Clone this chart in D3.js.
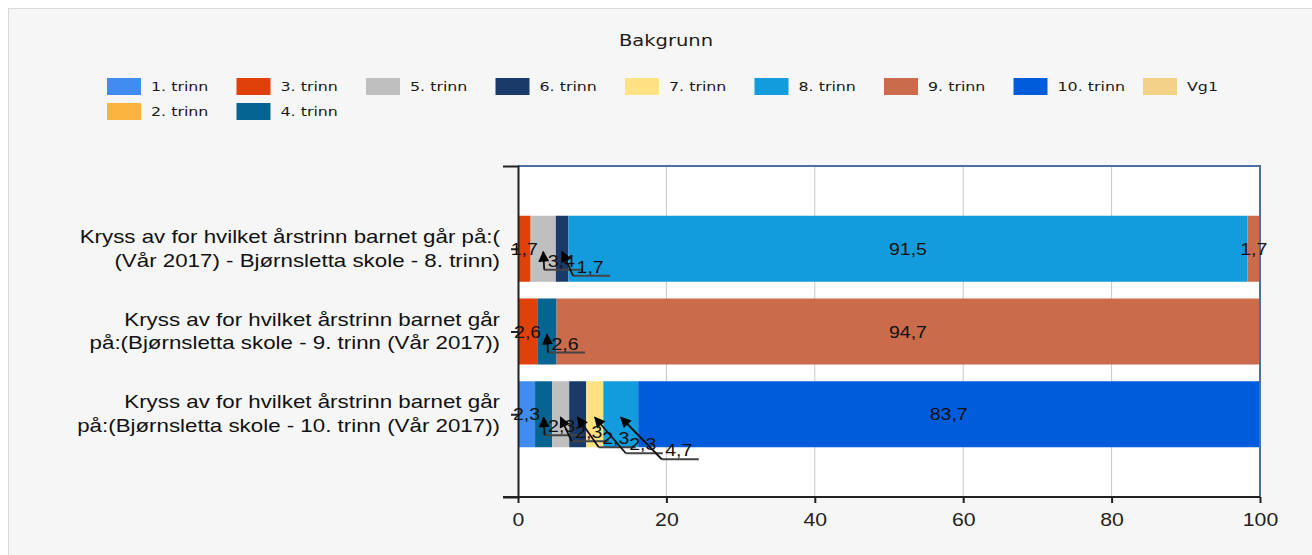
<!DOCTYPE html>
<html>
<head>
<meta charset="utf-8">
<script src="https://cdn.jsdelivr.net/npm/d3@7"></script>
<style>
  body { margin: 0; background: #fff; }
  svg { display: block; }
</style>
</head>
<body>
<svg></svg>
<script>
const W = 1312, H = 555;

// data
const title = "Bakgrunn";
const categories = [
    ["Kryss av for hvilket årstrinn barnet går på:(", "(Vår 2017) - Bjørnsletta skole - 8. trinn)"],
    ["Kryss av for hvilket årstrinn barnet går", "på:(Bjørnsletta skole - 9. trinn (Vår 2017))"],
    ["Kryss av for hvilket årstrinn barnet går", "på:(Bjørnsletta skole - 10. trinn (Vår 2017))"]
];
const seriesNames = ["1. trinn", "2. trinn", "3. trinn", "4. trinn", "5. trinn", "6. trinn",
                     "7. trinn", "8. trinn", "9. trinn", "10. trinn", "Vg1"];
const seriesColors = ["#418CF0", "#FCB441", "#E0400A", "#056492", "#BFBFBF", "#1A3B69",
                      "#FFE382", "#129CDD", "#CA6B4B", "#005CDB", "#F3D288"];
// percent per series (same order as seriesNames), one array per category
const values8trinn  = [0, 0, 1.7, 0, 3.4, 1.7, 0, 91.5, 1.7, 0, 0];
const values9trinn  = [0, 0, 2.6, 2.6, 0, 0, 0, 0, 94.7, 0, 0];
const values10trinn = [2.3, 0, 0, 2.3, 2.3, 2.3, 2.3, 4.7, 0, 83.7, 0];
const xTicks = [0, 20, 40, 60, 80, 100];
// legend columns (series index, top to bottom)
const legendColumns = [[0, 1], [2, 3], [4], [5], [6], [7], [8], [9], [10]];

const allValues = [values8trinn, values9trinn, values10trinn];

const svg = d3.select('svg').attr('width', W).attr('height', H);

// the source picture is a bit wider than normal, so text gets stretched sideways
const SX = 1.22;
function stretchedText(parent, px, py) {
    return parent.append('text')
        .attr('transform', `translate(${px},${py}) scale(${SX},1)`);
}

// background panel
svg.append('rect')
    .attr('x', 8.5).attr('y', 8.5)
    .attr('width', W).attr('height', H)
    .attr('fill', '#f6f6f6')
    .attr('stroke', '#d9d9d9');

// title
stretchedText(svg, 666, 46)
    .attr('text-anchor', 'middle')
    .attr('font-family', 'DejaVu Sans')
    .attr('font-size', 16)
    .attr('fill', '#1a1a1a')
    .text(title);

// legend
const legend = svg.append('g');
legendColumns.forEach((col, c) => {
    col.forEach((s, r) => {
        const lx = 107 + c * 129.5, ly = 78 + r * 25;
        legend.append('rect')
            .attr('x', lx).attr('y', ly)
            .attr('width', 34).attr('height', 17)
            .attr('fill', seriesColors[s]);
        stretchedText(legend, lx + 44, ly + 13)
            .attr('font-family', 'DejaVu Sans')
            .attr('font-size', 13)
            .attr('fill', '#1a1a1a')
            .text(seriesNames[s]);
    });
});

// scales
const plot = {l: 518, r: 1260, t: 166, b: 497};
const x = d3.scaleLinear().domain([0, 100]).range([plot.l, plot.r]);
const y = d3.scaleLinear().domain([0, 4]).range([plot.t, plot.b]);
const barH = 66;

// plot area
svg.append('rect')
    .attr('x', plot.l).attr('y', plot.t)
    .attr('width', plot.r - plot.l).attr('height', plot.b - plot.t)
    .attr('fill', '#fff');

// grid
svg.append('g').selectAll('line')
    .data(xTicks.slice(1, -1))
    .join('line')
    .attr('x1', d => x(d)).attr('x2', d => x(d))
    .attr('y1', plot.t).attr('y2', plot.b)
    .attr('stroke', '#c8c8c8');

// stacked bars
const stacked = allValues.map((vals, ci) => {
    let acc = 0;
    const segs = [];
    vals.forEach((v, si) => {
        if (v > 0) {
            segs.push({ci: ci, si: si, v: v, x0: acc, x1: acc + v});
            acc += v;
        }
    });
    return segs;
});

const barsG = svg.append('g');
stacked.forEach((segs, ci) => {
    barsG.selectAll(null)
        .data(segs)
        .join('rect')
        .attr('x', d => x(d.x0))
        .attr('y', y(ci + 1) - barH / 2)
        .attr('width', d => x(d.x1) - x(d.x0))
        .attr('height', barH)
        .attr('fill', d => seriesColors[d.si]);
});

// plot border (top + right)
svg.append('path')
    .attr('d', `M${plot.l},${plot.t}H${plot.r}V${plot.b}`)
    .attr('fill', 'none')
    .attr('stroke', '#4f6f9f')
    .attr('stroke-width', 2);

// axes
const xAxis = svg.append('g')
    .attr('transform', `translate(0, ${plot.b})`)
    .call(d3.axisBottom(x).tickValues(xTicks).tickSize(6).tickSizeOuter(0).tickPadding(10));
xAxis.select('.domain').attr('stroke', '#222').attr('stroke-width', 2).attr('d', `M${plot.l - 15},0H${plot.r}`);
xAxis.selectAll('.tick line').attr('stroke', '#222').attr('stroke-width', 2);
xAxis.selectAll('text')
    .attr('font-family', 'Liberation Sans, Arial')
    .attr('font-size', 18)
    .attr('fill', '#222')
    .attr('transform', 'scale(1.18,1)');

const yAxis = svg.append('g')
    .attr('transform', `translate(${plot.l}, 0)`)
    .call(d3.axisLeft(y).tickValues([1, 2, 3]).tickSize(7).tickSizeOuter(15).tickFormat(''));
yAxis.select('.domain').attr('stroke', '#222').attr('stroke-width', 2);
yAxis.selectAll('.tick line').attr('stroke', '#222').attr('stroke-width', 2);

// category labels
const catG = svg.append('g')
    .attr('font-family', 'Liberation Sans, Arial')
    .attr('font-size', 18)
    .attr('fill', '#111')
    .attr('text-anchor', 'end');
categories.forEach((lines, ci) => {
    const t = catG.append('text')
        .attr('transform', `translate(500,${y(ci + 1) - 6}) scale(1.24,1)`);
    lines.forEach((ln, i) => {
        t.append('tspan').attr('x', 0).attr('dy', i === 0 ? 0 : 24).text(ln);
    });
});

// data labels
svg.append('defs').append('marker')
    .attr('id', 'arrow')
    .attr('viewBox', '0 0 10 10')
    .attr('refX', 9).attr('refY', 5)
    .attr('markerWidth', 12).attr('markerHeight', 11)
    .attr('markerUnits', 'userSpaceOnUse')
    .attr('orient', 'auto')
    .append('path').attr('d', 'M0,0L10,5L0,10z').attr('fill', '#000');

const fmt = v => String(v).replace('.', ',');
const labG = svg.append('g')
    .attr('font-family', 'Liberation Sans, Arial')
    .attr('font-size', 16)
    .attr('fill', '#111');

stacked.forEach((segs, ci) => {
    const cy = y(ci + 1);
    let k = 0;
    segs.forEach((d, i) => {
        const cx = (x(d.x0) + x(d.x1)) / 2;
        const callout = d.v < 5 && i > 0 && i < segs.length - 1;
        if (!callout) {
            stretchedText(labG, cx, cy + 6)
                .attr('text-anchor', 'middle')
                .text(fmt(d.v));
        } else {
            const tipY = cy + 3;
            const lx = cx + 18 + k * 10;
            const ly = cy + 12 + k * 6;
            const ux0 = lx - 17, ux1 = lx + 20, uy = ly + 9;
            labG.append('path')
                .attr('d', `M${ux1},${uy}H${ux0}`)
                .attr('fill', 'none')
                .attr('stroke', '#444')
                .attr('stroke-width', 2);
            labG.append('path')
                .attr('d', `M${ux0},${uy}L${cx},${tipY}`)
                .attr('fill', 'none')
                .attr('stroke', '#111')
                .attr('stroke-width', 1.8)
                .attr('marker-end', 'url(#arrow)');
            stretchedText(labG, lx, ly + 6)
                .attr('text-anchor', 'middle')
                .text(fmt(d.v));
            k++;
        }
    });
});
</script>
</body>
</html>
